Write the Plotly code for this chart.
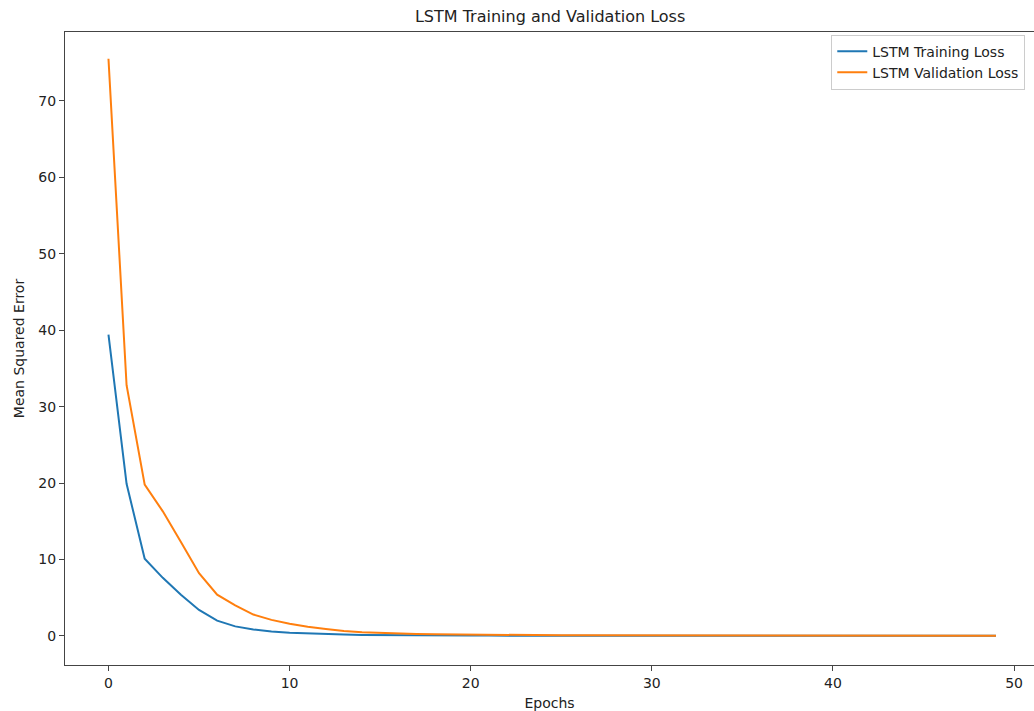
import plotly.graph_objects as go

epochs = list(range(50))
train_loss = [39.4, 19.9, 10.1, 7.6, 5.4, 3.4, 2.0, 1.25, 0.85, 0.58,
              0.42, 0.31, 0.23, 0.18, 0.14, 0.11, 0.09, 0.075, 0.065, 0.055,
              0.048, 0.043, 0.039, 0.036, 0.033, 0.031, 0.029, 0.027, 0.026, 0.025,
              0.024, 0.023, 0.022, 0.021, 0.021, 0.020, 0.020, 0.019, 0.019, 0.018,
              0.018, 0.018, 0.017, 0.017, 0.017, 0.016, 0.016, 0.016, 0.016, 0.015]
val_loss = [75.5, 32.8, 19.8, 16.3, 12.3, 8.2, 5.4, 4.0, 2.8, 2.1,
            1.6, 1.2, 0.9, 0.65, 0.5, 0.4, 0.32, 0.26, 0.21, 0.18,
            0.15, 0.13, 0.12, 0.11, 0.10, 0.09, 0.085, 0.08, 0.075, 0.07,
            0.067, 0.064, 0.061, 0.058, 0.056, 0.054, 0.052, 0.05, 0.049, 0.048,
            0.047, 0.046, 0.045, 0.044, 0.043, 0.042, 0.041, 0.04, 0.04, 0.039]
x_ticks = [0, 10, 20, 30, 40, 50]
y_ticks = [0, 10, 20, 30, 40, 50, 60, 70]

FONT = "DejaVu Sans"
fig = go.Figure()
fig.add_trace(go.Scatter(x=epochs, y=train_loss, mode="lines", name="LSTM Training Loss",
                         line=dict(color="#1f77b4", width=2)))
fig.add_trace(go.Scatter(x=epochs, y=val_loss, mode="lines", name="LSTM Validation Loss",
                         line=dict(color="#ff7f0e", width=2)))

fig.update_layout(
    width=1034, height=711,
    margin=dict(l=65, r=0, t=32, b=46),
    paper_bgcolor="white", plot_bgcolor="white",
    font=dict(family=FONT, size=14, color="#222"),
    title=dict(text="LSTM Training and Validation Loss", x=0.532, xanchor="center",
               y=0.977, yanchor="middle", font=dict(size=16, color="#222")),
    legend=dict(x=0.991, y=0.996, xanchor="right", yanchor="top",
                bgcolor="rgba(255,255,255,0.8)", bordercolor="#cccccc", borderwidth=1,
                font=dict(size=14, color="#222"), itemwidth=30,
                tracegroupgap=0),
    showlegend=True,
)
fig.update_xaxes(range=[-2.4, 51.1], tickvals=x_ticks, showgrid=False, zeroline=False,
                 showline=True, linecolor="#444", linewidth=1.2, mirror=True,
                 ticks="outside", ticklen=5, tickcolor="#444",
                 title=dict(text="Epochs", standoff=8, font=dict(size=14)))
fig.update_yaxes(range=[-3.8, 79.0], tickvals=y_ticks, showgrid=False, zeroline=False,
                 showline=True, linecolor="#444", linewidth=1.2,
                 ticks="outside", ticklen=5, tickcolor="#444",
                 title=dict(text="Mean Squared Error", standoff=10, font=dict(size=14)))

fig.write_html("out.html")
